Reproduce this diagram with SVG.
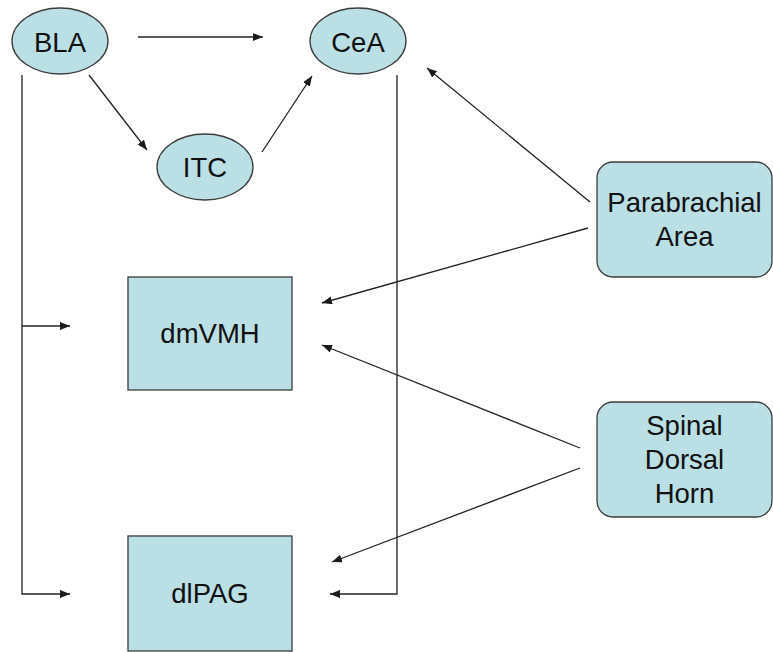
<svg xmlns="http://www.w3.org/2000/svg" width="773" height="652" viewBox="0 0 773 652">
<defs>
<marker id="ah" viewBox="0 0 10 8" refX="10" refY="4" markerWidth="10" markerHeight="8" markerUnits="userSpaceOnUse" orient="auto">
<path d="M0,0 L10,4 L0,8 Z" fill="#1a1a1a"/>
</marker>
<style>
.n{fill:#BADFE4;stroke:#3c3c3c;stroke-width:1.3}
.t{font-family:"Liberation Sans",Arial,sans-serif;font-size:27.5px;fill:#111;text-anchor:middle}
.c{fill:none;stroke:#222;stroke-width:1.3}
.a{marker-end:url(#ah)}
</style>
</defs>
<rect width="773" height="652" fill="#fff"/>
<g id="connectors">
<line class="c a" x1="138" y1="37" x2="263" y2="37"/>
<line class="c a" x1="89" y1="75" x2="147" y2="150"/>
<line class="c a" x1="262" y1="152" x2="312" y2="76"/>
<polyline class="c" points="22,75 22,594 70,594" style="marker-end:url(#ah)"/>
<line class="c a" x1="22" y1="326" x2="70" y2="326"/>
<polyline class="c" points="397,75 397,594 330,594" style="marker-end:url(#ah)"/>
<line class="c a" x1="590" y1="202" x2="427" y2="68"/>
<line class="c a" x1="588" y1="228" x2="322" y2="303"/>
<line class="c a" x1="580" y1="448" x2="322" y2="345"/>
<line class="c a" x1="580" y1="468" x2="332" y2="562"/>
</g>
<g id="BLA"><ellipse class="n" cx="60" cy="41" rx="48" ry="33"/><text class="t" x="60" y="52">BLA</text></g>
<g id="CeA"><ellipse class="n" cx="358" cy="41" rx="48" ry="33"/><text class="t" x="358" y="52">CeA</text></g>
<g id="ITC"><ellipse class="n" cx="205" cy="167" rx="48" ry="33"/><text class="t" x="205" y="177">ITC</text></g>
<g id="dmVMH"><rect class="n" x="128" y="277" width="164" height="113"/><text class="t" x="210" y="343">dmVMH</text></g>
<g id="dlPAG"><rect class="n" x="128" y="536" width="164" height="115"/><text class="t" x="210" y="603">dlPAG</text></g>
<g id="Parabrachial"><rect class="n" x="597" y="162" width="175" height="115" rx="16"/><text class="t" x="684.5" y="212">Parabrachial</text><text class="t" x="684.5" y="246">Area</text></g>
<g id="SpinalDorsalHorn"><rect class="n" x="597" y="402" width="175" height="115" rx="16"/><text class="t" x="684.5" y="435">Spinal</text><text class="t" x="684.5" y="469">Dorsal</text><text class="t" x="684.5" y="503">Horn</text></g>
</svg>
